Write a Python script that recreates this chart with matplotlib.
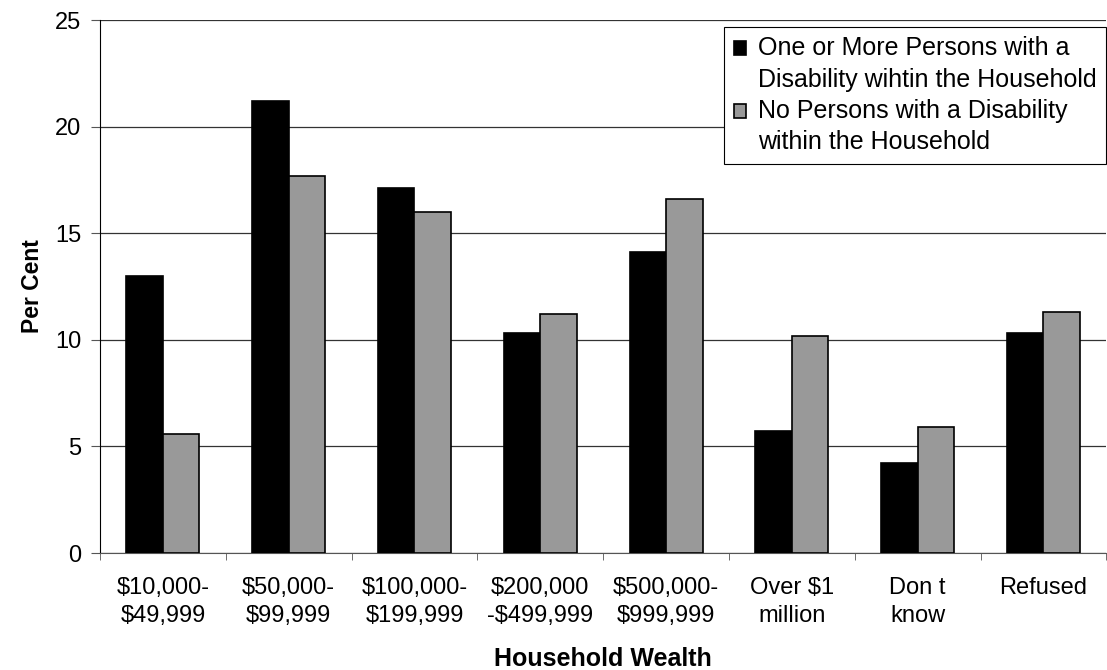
import matplotlib
matplotlib.use('Agg')
import matplotlib.pyplot as plt
from matplotlib.patches import Rectangle
from matplotlib.legend_handler import HandlerPatch
import numpy as np

plt.rcParams['font.family'] = ['Liberation Sans', 'DejaVu Sans']

categories = ['$10,000-\n$49,999', '$50,000-\n$99,999', '$100,000-\n$199,999',
              '$200,000\n-$499,999', '$500,000-\n$999,999', 'Over $1\nmillion',
              'Don t\nknow', 'Refused']
with_disability = [13.0, 21.2, 17.1, 10.3, 14.1, 5.7, 4.2, 10.3]
no_disability = [5.6, 17.7, 16.0, 11.2, 16.6, 10.2, 5.9, 11.3]
series_names = ['One or More Persons with a\nDisability wihtin the Household',
                'No Persons with a Disability\nwithin the Household']


# legend square sits next to the first line of a two-line label
def top_square(legend, orig_handle, xdescent, ydescent, width, height, fontsize):
    return Rectangle((-xdescent, -ydescent + 0.66 * fontsize), width, height)


fig = plt.figure(figsize=(11.07, 6.7), dpi=100)
ax = fig.add_axes([0.0903, 0.1746, 0.9091, 0.7955])

x = np.arange(len(categories))
w = 0.29
b1 = ax.bar(x - w/2, with_disability, w, color='black', edgecolor='black', lw=1.2,
            zorder=3)
b2 = ax.bar(x + w/2, no_disability, w, color='#999999', edgecolor='black', lw=1.2,
            zorder=3)

ax.set_xlim(-0.5, len(categories) - 0.5)
ax.set_ylim(0, 25)
ax.set_yticks([0, 5, 10, 15, 20, 25])
ax.yaxis.grid(True, color='#333333', lw=0.9, zorder=0)
ax.set_axisbelow(True)

ax.set_xticks(x)
ax.set_xticklabels(categories, fontsize=17, linespacing=1.38)
ax.tick_params(axis='x', length=0, pad=17)
ax.set_xticks(np.arange(len(categories) + 1) - 0.5, minor=True)
ax.tick_params(axis='x', which='minor', length=5, color='#555555')
ax.tick_params(axis='y', labelsize=17, length=6.5, color='#555555', pad=7)

for s in ['top', 'right']:
    ax.spines[s].set_visible(False)
ax.spines['left'].set_color('black')
ax.spines['bottom'].set_color('#555555')

ax.set_ylabel('Per Cent', fontsize=16.5, fontweight='bold', labelpad=8)
ax.set_xlabel('Household Wealth', fontsize=18, fontweight='bold', labelpad=14)

leg = ax.legend([b1.patches[0], b2.patches[0]], series_names,
                loc='upper right', bbox_to_anchor=(1.0, 0.987), fontsize=18,
                frameon=True, fancybox=False, edgecolor='black', framealpha=1,
                handlelength=0.48, handleheight=0.48, handletextpad=0.5,
                borderaxespad=0, labelspacing=0.3, borderpad=0.38,
                handler_map={Rectangle: HandlerPatch(patch_func=top_square)})
leg.get_frame().set_linewidth(0.8)
for t in leg.get_texts():
    t.set_linespacing(1.38)

fig.savefig('out.png', dpi=100)
